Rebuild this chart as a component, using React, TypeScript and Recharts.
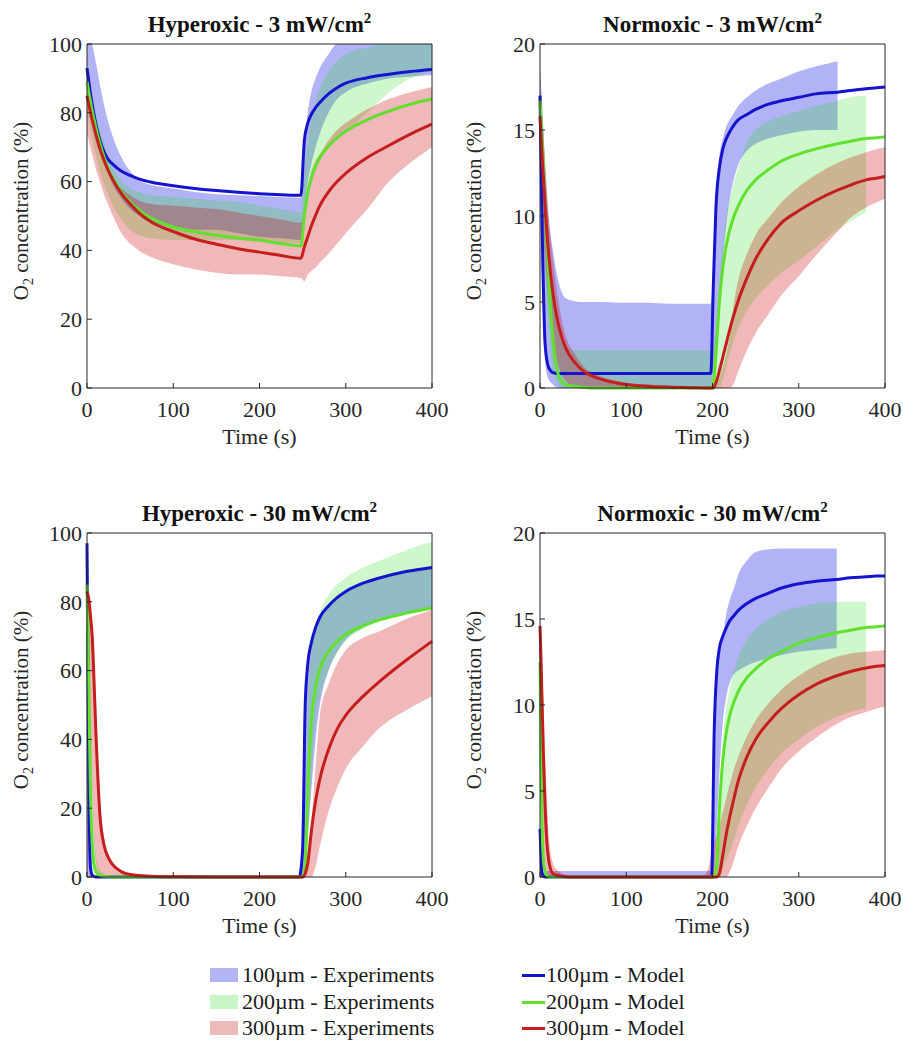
import React from 'react';
import { ComposedChart, Area, Line, XAxis, YAxis } from 'recharts';

// O2 concentration in 3D constructs: experiments (bands) vs model (lines)

const FONT = "'Liberation Serif', 'Times New Roman', serif";
const INK = '#262626';

const BLUE = '#1414cc';
const GREEN = '#62e030';
const RED = '#c41e1e';
const BLUE_FILL = '#0000e0';
const GREEN_FILL = '#20dd10';
const RED_FILL = '#c80000';

const timeTicks = [0, 100, 200, 300, 400];
const hyperTicks = [0, 20, 40, 60, 80, 100];
const normTicks = [0, 5, 10, 15, 20];

// Hyperoxic - 3 mW/cm2
const h3Time = [0, 5, 10, 15, 20, 25, 30, 40, 50, 60, 75, 100, 125, 150, 175, 200, 225, 248, 252, 256, 260, 265, 270, 280, 290, 300, 325, 350, 375, 400];
const h3Model100 = [93, 84, 77, 72, 68.5, 66.3, 65, 63, 61.8, 60.8, 59.8, 58.8, 58, 57.4, 56.9, 56.5, 56.2, 56, 72, 77, 79.5, 81.5, 83, 85.5, 87.3, 88.6, 90.2, 91.2, 92, 92.6];
const h3Model200 = [89, 82, 76, 71, 67, 63.5, 61, 57, 54, 51.8, 49.3, 46.8, 45.4, 44.4, 43.6, 43, 42, 41.3, 50, 57, 61, 64.5, 67, 70.3, 72.7, 74.6, 78, 80.5, 82.5, 84];
const h3Model300 = [85, 79, 74, 69.5, 66, 63, 60.5, 56.5, 53.5, 51, 48.2, 45.5, 43.3, 41.8, 40.5, 39.5, 38.5, 37.7, 41, 44, 47, 50.2, 53, 57, 60, 62.4, 67, 70.5, 73.8, 76.7];
const h3Exp100Lo = [86, 80, 75, 70, 66, 62, 59, 55, 52, 50, 48, 47, 46, 46, 45, 44, 43.5, 43, 52, 60, 65, 70, 74, 80, 84, 86, 88.5, 90, 90.5, 91];
const h3Exp100Hi = [100, 100, 95, 88, 82, 77, 73, 67, 63, 60.5, 59, 58, 57, 56.3, 56, 55.8, 55.5, 55.3, 70, 80, 86, 90, 93, 97, 100, 100, 100, 100, 100, 100];
const h3Exp200Lo = [80, 74, 68, 63, 59, 56, 53, 49, 46, 44.5, 43.5, 43, 43, 43, 43, 42.5, 42, 42, 48, 55, 59, 63, 66, 70, 72.5, 74.5, 80, 86, 90, 92];
const h3Exp200Hi = [92, 86, 80, 75, 71, 67, 64, 60, 58, 57, 56, 55.5, 55, 54.5, 54, 53, 52, 51, 62, 72, 78, 83, 87, 92, 95, 97, 99, 100, 100, 100];
const h3Exp300Lo = [74, 69, 64, 60, 56, 53, 50, 45, 42, 40, 38, 36, 34.5, 33.5, 33, 33, 32.5, 32, 31, 33, 34, 35, 36.5, 39, 42, 45, 52, 60, 65.5, 70];
const h3Exp300Hi = [88, 82, 77, 72, 68, 64, 61, 58, 56, 54.5, 53.5, 53, 52.5, 52, 51, 50, 49, 48, 52, 58, 63, 66, 68, 72, 75, 77, 81, 84, 86, 87.5];

// Normoxic - 3 mW/cm2
const n3Time = [0, 3, 6, 10, 15, 20, 25, 30, 40, 50, 60, 75, 100, 125, 150, 175, 198, 201, 204, 208, 212, 216, 220, 225, 230, 240, 250, 265, 280, 300, 320, 345, 360, 378, 390, 400];
const n3Model100 = [17, 8, 2.5, 1.2, 0.9, 0.85, 0.85, 0.85, 0.85, 0.85, 0.85, 0.85, 0.85, 0.85, 0.85, 0.85, 0.85, 6, 10.5, 12.8, 13.9, 14.5, 14.9, 15.3, 15.6, 15.9, 16.2, 16.5, 16.7, 16.9, 17.1, 17.2, 17.3, 17.4, 17.45, 17.5];
const n3Model200 = [16.7, 14, 10.5, 6.5, 2.8, 1.0, 0.4, 0.2, 0.1, 0.05, 0, 0, 0, 0, 0, 0, 0, 0.3, 2, 5, 7, 8.3, 9.2, 10, 10.6, 11.5, 12.1, 12.7, 13.2, 13.6, 13.9, 14.2, 14.35, 14.5, 14.55, 14.6];
const n3Model300 = [15.8, 13, 10.5, 7.8, 5.5, 4, 3, 2.3, 1.5, 1, 0.7, 0.45, 0.2, 0.1, 0.05, 0.02, 0, 0, 0.3, 1, 1.8, 2.6, 3.4, 4.3, 5.1, 6.4, 7.5, 8.7, 9.6, 10.3, 10.9, 11.5, 11.8, 12.1, 12.2, 12.3];
const n3Exp100Lo = [12, 5, 1.5, 0.5, 0.2, 0, 0, 0, 0, 0, 0, 0, 0, 0, 0, 0, 0, 1, 2.5, 5, 7.5, 9.5, 11, 12.2, 13, 13.8, 14.2, 14.5, 14.7, 14.9, 15, 15, null, null, null, null];
const n3Exp100Hi = [18.7, 16, 13, 10, 8, 6.5, 5.6, 5.2, 5.05, 5, 5, 5, 4.95, 4.95, 4.9, 4.9, 4.9, 7, 11.2, 13.5, 14.5, 15.2, 15.6, 16, 16.4, 16.9, 17.3, 17.7, 18, 18.4, 18.7, 19, null, null, null, null];
const n3Exp200Lo = [14, 11, 7, 3.5, 1, 0.3, 0, 0, 0, 0, 0, 0, 0, 0, 0, 0, 0, 0, 0, 0, 0.5, 1.2, 2, 2.8, 3.5, 4.5, 5.2, 6, 6.7, 7.4, 8.2, 9.2, 9.7, 10.2, null, null];
const n3Exp200Hi = [17, 15, 12, 8.5, 5.5, 3.8, 2.8, 2.3, 2.2, 2.2, 2.2, 2.2, 2.2, 2.2, 2.2, 2.2, 2.2, 2.4, 3.5, 6, 8.5, 10, 11, 12, 12.8, 14.3, 15, 15.5, 15.8, 16.1, 16.4, 16.7, 16.9, 17, null, null];
const n3Exp300Lo = [13, 10, 7.5, 5, 2.8, 1.5, 0.8, 0.4, 0.1, 0, 0, 0, 0, 0, 0, 0, 0, 0, 0, 0, 0, 0, 0, 0.3, 1, 2.2, 3.2, 4.3, 5.4, 6.5, 7.7, 9.1, 9.9, 10.5, 10.8, 11];
const n3Exp300Hi = [17, 15.5, 13, 10, 7.5, 5.5, 4, 3, 2, 1.3, 0.9, 0.6, 0.3, 0.2, 0.15, 0.1, 0.1, 0.1, 0.2, 0.6, 1.2, 2, 3, 5, 6.3, 7.8, 8.9, 9.9, 10.8, 11.7, 12.4, 13.1, 13.4, 13.7, 13.9, 14];

// Hyperoxic - 30 mW/cm2
const h30Time = [0, 2, 4, 6, 8, 10, 12, 15, 20, 25, 30, 40, 50, 75, 100, 150, 200, 246, 250, 253, 256, 260, 265, 270, 280, 290, 300, 320, 340, 370, 400];
const h30Model100 = [97, 30, 3, 0.5, 0.2, 0, 0, 0, 0, 0, 0, 0, 0, 0, 0, 0, 0, 0, 8, 50, 62, 68, 72.5, 75.5, 78.8, 81.2, 83, 85.4, 87, 88.8, 90];
const h30Model200 = [85, 55, 25, 10, 4, 2, 1, 0.5, 0.2, 0.1, 0, 0, 0, 0, 0, 0, 0, 0, 0, 4, 25, 45, 55, 60.5, 65.5, 68.5, 70.5, 73, 74.8, 76.7, 78.2];
const h30Model300 = [83, 81, 76, 70, 58, 44, 32, 18, 9, 5.5, 3.5, 1.5, 0.7, 0.2, 0.05, 0, 0, 0, 0, 1, 4, 13, 22, 28.5, 37, 43, 47, 52.5, 57, 63, 68.5];
const h30Exp100Lo = [0, 0, 0, 0, 0, 0, 0, 0, 0, 0, 0, 0, 0, 0, 0, 0, 0, 0, 0, 3, 12, 25, 40, 50, 60, 65.5, 69, 72.5, 74.8, 76.7, 78.2];
const h30Exp100Hi = [100, 40, 5, 0.5, 0.3, 0.3, 0.3, 0.3, 0.3, 0.3, 0.3, 0.3, 0.3, 0.3, 0.3, 0.3, 0.3, 0.3, 8, 50, 62, 68, 72.5, 75, 78.5, 81, 82.8, 85.2, 86.8, 88.6, 89.8];
const h30Exp200Lo = [60, 35, 10, 3, 1, 0, 0, 0, 0, 0, 0, 0, 0, 0, 0, 0, 0, 0, 0, 0, 10, 30, 45, 52, 60, 65, 68.5, 72, 74.5, 76.5, 78];
const h30Exp200Hi = [100, 85, 60, 30, 15, 7, 4, 2, 1, 0.5, 0.5, 0.5, 0.5, 0.5, 0.5, 0.5, 0.5, 0.5, 1, 20, 50, 65, 73, 77, 82, 85, 87, 90, 92, 95, 97.5];
const h30Exp300Lo = [65, 55, 40, 25, 12, 5, 2, 0.5, 0, 0, 0, 0, 0, 0, 0, 0, 0, 0, 0, 0, 0, 0, 3, 9, 19, 26, 31.5, 38, 43.5, 48.5, 52.5];
const h30Exp300Hi = [86, 83, 78, 72, 62, 48, 36, 22, 11, 6.5, 4, 2, 1, 0.3, 0.1, 0, 0, 0, 0, 0.5, 3, 15, 32, 47, 56, 62, 66, 69.5, 71.5, 75, 77.7];

// Normoxic - 30 mW/cm2
const n30Time = [0, 1, 2, 4, 6, 8, 10, 12, 15, 20, 25, 33, 50, 100, 150, 190, 195, 199, 202, 205, 208, 212, 216, 220, 225, 230, 240, 250, 265, 280, 300, 320, 344, 360, 378, 390, 400];
const n30Model100 = [2.8, 1.5, 0.3, 0.05, 0, 0, 0, 0, 0, 0, 0, 0, 0, 0, 0, 0, 0, 0, 8.5, 12, 13.3, 14, 14.5, 14.9, 15.2, 15.5, 15.9, 16.2, 16.5, 16.8, 17.05, 17.2, 17.3, 17.4, 17.45, 17.5, 17.5];
const n30Model200 = [12.5, 8, 4, 1, 0.3, 0.1, 0, 0, 0, 0, 0, 0, 0, 0, 0, 0, 0, 0, 0, 0.8, 4, 6.8, 8.4, 9.4, 10.2, 10.8, 11.6, 12.1, 12.7, 13.1, 13.6, 13.9, 14.2, 14.35, 14.5, 14.55, 14.6];
const n30Model300 = [14.6, 13, 11, 7, 4, 2, 1, 0.5, 0.2, 0.1, 0.05, 0, 0, 0, 0, 0, 0, 0, 0, 0, 0.2, 1.3, 2.5, 3.5, 4.6, 5.6, 7, 8, 9, 9.8, 10.6, 11.2, 11.7, 11.95, 12.15, 12.25, 12.3];
const n30Exp100Lo = [0, 0, 0, 0, 0, 0, 0, 0, 0, 0, 0, 0, 0, 0, 0, 0, 0, 0, 0.5, 3, 6, 9, 10.5, 11.3, 11.8, 12, 12.3, 12.5, 12.7, 12.9, 13.1, 13.2, 13.3, null, null, null, null];
const n30Exp100Hi = [3, 2, 0.5, 0.4, 0.35, 0.35, 0.35, 0.35, 0.35, 0.35, 0.35, 0.35, 0.35, 0.35, 0.35, 0.35, 0.35, 0.4, 5, 11, 13, 14, 15.3, 16.1, 16.8, 17.6, 18.4, 18.9, 19.05, 19.1, 19.1, 19.1, 19.1, null, null, null, null];
const n30Exp200Lo = [9, 5, 1.5, 0, 0, 0, 0, 0, 0, 0, 0, 0, 0, 0, 0, 0, 0, 0, 0, 0, 0, 0.5, 1, 1.5, 2.2, 3, 4.2, 5.2, 6.3, 7.2, 8, 8.7, 9.3, 9.6, 9.8, null, null];
const n30Exp200Hi = [13, 9, 5, 1.5, 0.5, 0.2, 0.1, 0.1, 0.1, 0.1, 0.1, 0.1, 0.1, 0.1, 0.1, 0.1, 0.1, 0.1, 0.5, 2, 5, 8, 9.8, 11, 12, 12.8, 13.8, 14.4, 15, 15.4, 15.7, 15.9, 16, 16, 16, null, null];
const n30Exp300Lo = [10, 8, 5, 2, 0.8, 0.3, 0.1, 0, 0, 0, 0, 0, null, null, null, 0, 0, 0, 0, 0, 0, 0, 0, 0.3, 1, 1.8, 3, 4, 5.2, 6.3, 7.3, 8.1, 8.9, 9.3, 9.6, 9.8, 9.9];
const n30Exp300Hi = [15, 14.5, 13, 10, 7, 4.5, 2.5, 1.5, 0.8, 0.4, 0.2, 0.1, null, null, null, 0.1, 0.5, 1.5, 2, 2.5, 3, 3.8, 4.6, 5.4, 6.3, 7, 8.2, 9.1, 10.1, 10.9, 11.7, 12.3, 12.8, 13, 13.1, 13.15, 13.2];

type Num = number | null;

const band = (lo: Num, hi: Num) => (lo == null || hi == null ? null : [lo, hi]);

function buildRows(time: number[], m100: number[], m200: number[], m300: number[],
  lo100: Num[], hi100: Num[], lo200: Num[], hi200: Num[], lo300: Num[], hi300: Num[]) {
  return time.map((t, i) => ({
    t,
    m100: m100[i],
    m200: m200[i],
    m300: m300[i],
    e100: band(lo100[i], hi100[i]),
    e200: band(lo200[i], hi200[i]),
    e300: band(lo300[i], hi300[i]),
  }));
}

const h3Rows = buildRows(h3Time, h3Model100, h3Model200, h3Model300, h3Exp100Lo, h3Exp100Hi, h3Exp200Lo, h3Exp200Hi, h3Exp300Lo, h3Exp300Hi);
const n3Rows = buildRows(n3Time, n3Model100, n3Model200, n3Model300, n3Exp100Lo, n3Exp100Hi, n3Exp200Lo, n3Exp200Hi, n3Exp300Lo, n3Exp300Hi);
const h30Rows = buildRows(h30Time, h30Model100, h30Model200, h30Model300, h30Exp100Lo, h30Exp100Hi, h30Exp200Lo, h30Exp200Hi, h30Exp300Lo, h30Exp300Hi);
const n30Rows = buildRows(n30Time, n30Model100, n30Model200, n30Model300, n30Exp100Lo, n30Exp100Hi, n30Exp200Lo, n30Exp200Hi, n30Exp300Lo, n30Exp300Hi);

interface PanelProps {
  left: number;
  top: number;
  title: string;
  rows: any[];
  yMax: number;
  yTicks: number[];
}

function Panel({ left, top, title, rows, yMax, yTicks }: PanelProps) {
  const tickStyle = { fill: INK, fontSize: 22, fontFamily: FONT };
  return (
    <div style={{ position: 'absolute', left, top, width: 450, height: 450 }}>
      <div style={{
        position: 'absolute', left: 87, top: 10, width: 345, textAlign: 'center',
        fontFamily: FONT, fontWeight: 'bold', fontSize: 23, lineHeight: '30px', color: '#111',
      }}>
        {title}<sup style={{ fontSize: 15, lineHeight: 0 }}>2</sup>
      </div>
      <div style={{
        position: 'absolute', left: 21 - 150, top: 211 - 15, width: 300, height: 30,
        textAlign: 'center', transform: 'rotate(-90deg)', fontFamily: FONT, fontSize: 21,
        lineHeight: '30px', color: INK,
      }}>
        O<sub style={{ fontSize: 14, lineHeight: 0 }}>2</sub> concentration (%)
      </div>
      <ComposedChart width={450} height={450} data={rows}
        margin={{ top: 43, right: 17, bottom: 22, left: 27 }}>
        <XAxis dataKey="t" type="number" domain={[0, 400]} ticks={timeTicks} interval={0}
          height={40} tickSize={-5} tickMargin={18} stroke={INK} tick={tickStyle}
          label={{ value: 'Time (s)', position: 'bottom', offset: 0, fill: INK, fontSize: 22, fontFamily: FONT }} />
        <XAxis xAxisId="top" orientation="top" dataKey="t" type="number" domain={[0, 400]}
          ticks={timeTicks} interval={0} height={1} tickSize={-5} tick={false} stroke={INK} />
        <YAxis type="number" domain={[0, yMax]} ticks={yTicks} interval={0} width={60}
          tickSize={-5} tickMargin={10} stroke={INK} tick={tickStyle} />
        <YAxis yAxisId="right" orientation="right" type="number" domain={[0, yMax]} ticks={yTicks}
          interval={0} width={1} tickSize={-5} tick={false} stroke={INK} />
        <Area type="monotone" dataKey="e100" stroke="none" fill={BLUE_FILL} fillOpacity={0.3} isAnimationActive={false} />
        <Area type="monotone" dataKey="e200" stroke="none" fill={GREEN_FILL} fillOpacity={0.22} isAnimationActive={false} />
        <Area type="monotone" dataKey="e300" stroke="none" fill={RED_FILL} fillOpacity={0.28} isAnimationActive={false} />
        <Line type="monotone" dataKey="m100" stroke={BLUE} strokeWidth={3} dot={false} isAnimationActive={false} />
        <Line type="monotone" dataKey="m200" stroke={GREEN} strokeWidth={3} dot={false} isAnimationActive={false} />
        <Line type="monotone" dataKey="m300" stroke={RED} strokeWidth={3} dot={false} isAnimationActive={false} />
      </ComposedChart>
    </div>
  );
}

const expLegend = [
  { label: '100µm - Experiments', color: '#b3b3f6' },
  { label: '200µm - Experiments', color: '#c9f5c5' },
  { label: '300µm - Experiments', color: '#edbaba' },
];
const modelLegend = [
  { label: '100µm - Model', color: BLUE },
  { label: '200µm - Model', color: GREEN },
  { label: '300µm - Model', color: RED },
];
const legendRowY = [975, 1002, 1028];

function Legend() {
  const text = { fontFamily: FONT, fontSize: 22, color: '#1a1a1a', whiteSpace: 'nowrap' as const };
  return (
    <>
      {expLegend.map((item, i) => (
        <div key={item.label} style={{ position: 'absolute', left: 210, top: legendRowY[i] - 13, height: 26, display: 'flex', alignItems: 'center' }}>
          <div style={{ width: 28, height: 14, background: item.color, marginRight: 4 }} />
          <span style={text}>{item.label}</span>
        </div>
      ))}
      {modelLegend.map((item, i) => (
        <div key={item.label} style={{ position: 'absolute', left: 522, top: legendRowY[i] - 13, height: 26, display: 'flex', alignItems: 'center' }}>
          <div style={{ width: 23, height: 3, background: item.color, marginRight: 1 }} />
          <span style={text}>{item.label}</span>
        </div>
      ))}
    </>
  );
}

export default function App() {
  return (
    <div style={{ position: 'absolute', left: 0, top: 0, width: 903, height: 1041, background: '#fff', overflow: 'hidden' }}>
      <Panel left={0} top={0} title="Hyperoxic - 3 mW/cm" rows={h3Rows} yMax={100} yTicks={hyperTicks} />
      <Panel left={453} top={0} title="Normoxic - 3 mW/cm" rows={n3Rows} yMax={20} yTicks={normTicks} />
      <Panel left={0} top={489} title="Hyperoxic - 30 mW/cm" rows={h30Rows} yMax={100} yTicks={hyperTicks} />
      <Panel left={453} top={489} title="Normoxic - 30 mW/cm" rows={n30Rows} yMax={20} yTicks={normTicks} />
      <Legend />
    </div>
  );
}
